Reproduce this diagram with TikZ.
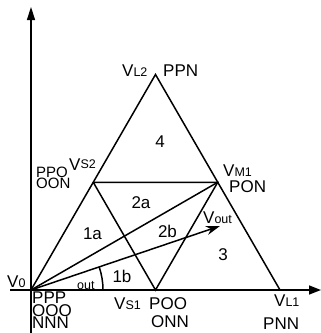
\documentclass[tikz,border=0pt]{standalone}
\usepackage{fontspec}
\setmainfont{Liberation Sans}
\usetikzlibrary{arrows.meta}
\newcommand{\bigf}{\fontsize{17}{17}\selectfont}
\newcommand{\midf}{\fontsize{15}{15}\selectfont}
\newcommand{\smf}{\fontsize{12.5}{12.5}\selectfont}
\newcommand{\tightstack}[3]{\vbox{\baselineskip=#1\lineskiplimit=-100pt\lineskip=0pt\hbox{#2}\hbox{#3}}}
\begin{document}
\begin{tikzpicture}[x=1pt,y=-1pt,
  edge/.style={line width=1.5pt},
  lab/.style={anchor=base west, inner sep=0pt, font=\bigf},
  num/.style={inner sep=0pt, font=\bigf}]
\useasboundingbox (0,0) rectangle (321,333);
\coordinate (V0) at (31,290);
\coordinate (VS1) at (155.5,290);
\coordinate (VL1) at (280,290);
\coordinate (VL2) at (155.5,74.5);
\coordinate (VS2) at (93.25,182.25);
\coordinate (VM1) at (217.75,182.25);
\coordinate (Vout) at (220,226);
\coordinate (xs) at (10,290);
\coordinate (xe) at (321,290);
\coordinate (ys) at (31,333);
\coordinate (ye) at (31,7);
\coordinate (arcS) at (103,290);
% axes
\draw[edge,-{Triangle[length=12pt,width=9pt]}] (xs) -- (xe);
\draw[edge,-{Triangle[length=13pt,width=8pt]}] (ys) -- (ye);
% triangles
\draw[edge,line join=miter] (V0) -- (VL2) -- (VL1);
\draw[edge] (VS2) -- (VM1) -- (VS1) -- (VS2);
\draw[edge] (V0) -- (VM1);
\draw[edge,-{Stealth[length=14pt,width=9pt]}] (V0) -- (Vout);
\draw[edge] (arcS) arc[start angle=0,end angle=-18.7,radius=72];
% labels
\node[lab] (tV0) at (7,287) {V{\smf 0}};
\node[lab] (tPPP) at (32,328.5) {\vbox{\baselineskip=12.5pt\lineskiplimit=-100pt\lineskip=0pt\hbox{PPP}\hbox{OOO}\hbox{NNN}}};
\node[lab] (tVS1) at (114,309) {V{\smf S1}};
\node[lab] (tPOO) at (149,327.5) {\tightstack{18.5pt}{POO}{\hspace{2pt}ONN}};
\node[lab] (tVL1) at (274,306) {V{\smf L1}};
\node[lab] (tPNN) at (263,329) {PNN};
\node[lab] (tVL2) at (122,76) {V{\smf L2}};
\node[lab] (tPPN) at (163,76) {PPN};
\node[lab,font=\midf] (tPPO) at (36,188.5) {\tightstack{11.5pt}{PPO}{OON}};
\node[lab] (tVS2) at (69,170) {V\raisebox{2pt}{\smf S2}};
\node[lab] (tVM1) at (223,176) {V{\smf M1}};
\node[lab] (tPON) at (229,192) {PON};
\node[lab] (tVout) at (203,223) {V{\smf out}};
\node[lab,font=\smf] (tout) at (77,289) {out};
% region numbers
\node[num] (r4) at (160,141.5) {4};
\node[num] (r2a) at (141,203) {2a};
\node[num] (r1a) at (92.5,233.5) {1a};
\node[num] (r2b) at (167.5,231.5) {2b};
\node[num] (r3) at (223,255) {3};
\node[num] (r1b) at (122,276) {1b};
\end{tikzpicture}
\end{document}
